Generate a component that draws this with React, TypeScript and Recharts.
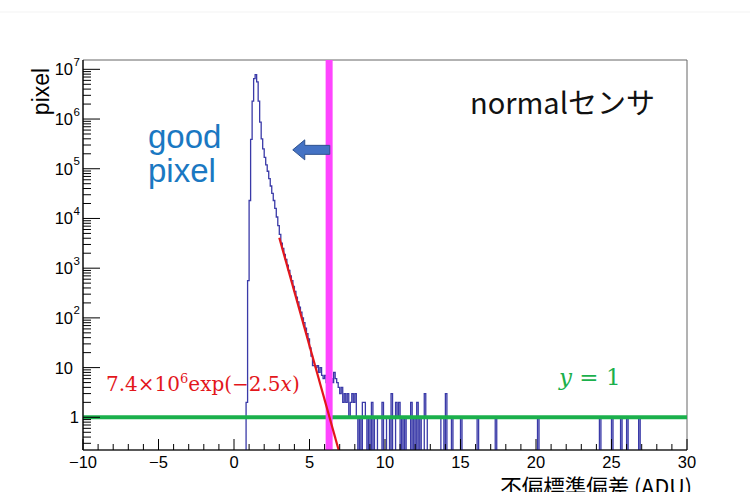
import React from 'react';
import { ComposedChart, Line, XAxis, YAxis, ReferenceDot, ReferenceArea } from 'recharts';

// ---- data ----
// histogram: bin start (ADU) and count in that bin (until the next start)
const binStart = [
  -10, 0.8, 0.9, 1.0, 1.1, 1.2, 1.3, 1.4, 1.5, 1.6, 1.7, 1.8, 1.9, 2.0, 2.1, 2.2, 2.3, 2.4, 2.5, 2.6,
  2.7, 2.8, 2.9, 3.0, 3.1, 3.2, 3.3, 3.4, 3.5, 3.6, 3.7, 3.8, 3.9, 4.0, 4.1, 4.2, 4.3, 4.4, 4.5, 4.6,
  4.7, 4.8, 4.9, 5.0, 5.1, 5.2, 5.3, 5.4, 5.5, 5.6, 5.7, 5.8, 5.9, 6.0, 6.1, 6.2, 6.3, 6.4, 6.5, 6.6,
  6.7, 6.8, 6.9, 7.0, 7.1, 7.2, 7.3, 7.4, 7.5, 7.6, 7.7, 7.8, 7.9, 8.0, 8.1, 8.2, 8.3, 8.4, 8.5, 8.6,
  8.7, 8.8, 8.9, 9.0, 9.1, 9.2, 9.3, 9.4, 9.5, 9.8, 9.9, 10.1, 10.2, 10.3, 10.4, 10.5, 10.7, 10.8, 10.9, 11.0,
  11.1, 11.2, 11.3, 11.4, 11.7, 11.8, 11.9, 12.0, 12.1, 12.2, 12.3, 12.4, 12.6, 12.7, 12.8, 13.7, 13.8, 13.9, 14.0, 14.1,
  14.4, 14.5, 15.0, 15.1, 16.1, 16.2, 17.3, 17.4, 20.1, 20.2, 24.2, 24.3, 25.0, 25.1, 25.6, 25.7, 26.0, 26.1, 26.8, 26.9,
  30,
];
const binCount = [
  0, 2, 560, 23000, 390000, 2300000, 6500000, 7800000, 5600000, 2300000, 870000, 400000, 250000, 170000, 120000, 89000, 63000, 45000, 32000, 23000,
  16000, 10700, 7200, 4800, 3200, 2500, 1900, 1500, 1150, 900, 700, 560, 430, 340, 260, 210, 165, 130, 100, 80,
  62, 48, 38, 25, 17, 11, 11, 10, 11, 8, 10, 7, 6, 7, 5, 6, 5, 6, 5, 8,
  6, 5, 4, 3, 4, 2, 3, 2, 3, 1, 2, 3, 2, 3, 1, 0, 1, 0, 2, 2,
  1, 0, 1, 0, 2, 0, 1, 1, 0, 2, 0, 1, 1, 0, 3, 0, 2, 1, 2, 0,
  1, 0, 1, 0, 2, 0, 1, 0, 2, 0, 1, 0, 3, 1, 0, 1, 1, 0, 3, 0,
  1, 0, 1, 0, 1, 0, 1, 0, 1, 0, 1, 0, 1, 0, 1, 0, 1, 0, 1, 0,
  0,
];

// fit 7.4e6 exp(-2.5x), drawn from x = 3 to below the axis floor
const fitX = [3.0, 7.0];
const fitY = [4100, 0.185];

const cutX = 6.3; // magenta selection line
const unitLevel = 1; // y = 1 line

const X_MIN = -10;
const X_MAX = 30;
const Y_MIN = 0.22;
const Y_MAX = 1.54e7;

const xTickValues = Array.from({ length: 41 }, (_, i) => X_MIN + i);
const yDecades = [-1, 0, 1, 2, 3, 4, 5, 6, 7];
const yMults = [1, 2, 3, 4, 5, 6, 7, 8, 9];

// ---- tables built for the library ----
const ZERO_DRAW = 0.05; // empty bins drawn below the axis floor (clipped)
const histData = binStart.map((x, i) => ({ x, n: binCount[i] > 0 ? binCount[i] : ZERO_DRAW }));
const fitData = fitX.map((x, i) => ({ x, y: fitY[i] }));
const cutData = [{ x: cutX, y: Y_MIN }, { x: cutX, y: Y_MAX }];
const unitData = [{ x: X_MIN, y: unitLevel }, { x: X_MAX, y: unitLevel }];
const yTickValues: number[] = [];
yDecades.forEach((d) => yMults.forEach((m) => {
  const v = m * Math.pow(10, d);
  if (v >= Y_MIN && v <= Y_MAX) yTickValues.push(v);
}));

const LABEL_FONT = '"Liberation Sans", Arial, sans-serif';

const YTick = (props: any) => {
  const { x, y, payload } = props;
  const v = payload.value;
  const lg = Math.log10(v);
  const exp = Math.round(lg);
  const major = Math.abs(lg - exp) < 1e-6;
  const len = major ? 17 : 8;
  let label: React.ReactNode = null;
  if (major) {
    if (exp === 0) {
      label = <text x={79} y={y} dy="0.36em" textAnchor="end" fontSize={16.5} fontFamily={LABEL_FONT} fill="#000">1</text>;
    } else if (exp === 1) {
      label = <text x={73} y={y} dy="0.36em" textAnchor="end" fontSize={16.5} fontFamily={LABEL_FONT} fill="#000">10</text>;
    } else {
      label = (
        <g>
          <text x={73} y={y} dy="0.36em" textAnchor="end" fontSize={16.5} fontFamily={LABEL_FONT} fill="#000">10</text>
          <text x={73.5} y={y - 3.5} textAnchor="start" fontSize={11.5} fontFamily={LABEL_FONT} fill="#000">{exp}</text>
        </g>
      );
    }
  }
  return (
    <g>
      <line x1={x} x2={x + len} y1={y} y2={y} stroke="#000" strokeWidth={1} />
      {label}
    </g>
  );
};

const XTick = (props: any) => {
  const { x, y, payload } = props;
  const v = payload.value;
  const major = v % 5 === 0;
  const len = major ? 11 : 6;
  const txt = v < 0 ? '\u2212' + Math.abs(v) : String(v);
  return (
    <g>
      <line x1={x} x2={x} y1={y} y2={y - len} stroke="#000" strokeWidth={1} />
      {major && (
        <text x={x} y={y + 17.5} textAnchor="middle" fontSize={16.5} fontFamily={LABEL_FONT} fill="#000">{txt}</text>
      )}
    </g>
  );
};

const ArrowShape = (props: any) => {
  const { cx, cy } = props;
  const pts = [
    [cx - 19, cy],
    [cx - 7, cy - 10],
    [cx - 7, cy - 4.5],
    [cx + 18, cy - 4.5],
    [cx + 18, cy + 4.5],
    [cx - 7, cy + 4.5],
    [cx - 7, cy + 10],
  ].map((p) => p.join(',')).join(' ');
  return <polygon points={pts} fill="#4472c4" stroke="#2f528f" strokeWidth={1} />;
};

export default function App() {
  return (
    <div style={{ position: 'absolute', left: 0, top: 0, width: 750, height: 492, background: '#fff', overflow: 'hidden' }}>
      <ComposedChart width={750} height={492} margin={{ top: 60, right: 63, left: 0, bottom: 0 }}>
        <XAxis
          dataKey="x"
          type="number"
          domain={[X_MIN, X_MAX]}
          ticks={xTickValues}
          interval={0}
          allowDataOverflow
          height={42}
          tickSize={0}
          tickMargin={0}
          tickLine={false}
          tick={<XTick />}
          axisLine={{ stroke: '#000', strokeWidth: 1.2 }}
        />
        <YAxis
          type="number"
          scale="log"
          domain={[Y_MIN, Y_MAX]}
          ticks={yTickValues}
          interval={0}
          allowDataOverflow
          width={83}
          tickSize={0}
          tickMargin={0}
          tickLine={false}
          tick={<YTick />}
          axisLine={{ stroke: '#000', strokeWidth: 1.2 }}
        />
        <ReferenceArea x1={X_MIN} x2={X_MAX} y1={Y_MIN} y2={Y_MAX} fill="none" stroke="#666" strokeWidth={1} />
        <Line data={histData} dataKey="n" type="stepAfter" stroke="#3a3aa8" strokeWidth={1.3} dot={false} activeDot={false} isAnimationActive={false} />
        <Line data={unitData} dataKey="y" type="linear" stroke="#1bb04c" strokeWidth={4} dot={false} activeDot={false} isAnimationActive={false} />
        <Line data={cutData} dataKey="y" type="linear" stroke="#ff45ff" strokeWidth={7} dot={false} activeDot={false} isAnimationActive={false} />
        <Line data={fitData} dataKey="y" type="linear" stroke="#e3161b" strokeWidth={2.2} dot={false} activeDot={false} isAnimationActive={false} />
        <ReferenceDot x={5.15} y={2.4e5} r={10} shape={<ArrowShape />} />
      </ComposedChart>
      <svg width={750} height={492} style={{ position: 'absolute', left: 0, top: 0, pointerEvents: 'none' }}>
        <line x1={0} x2={750} y1={12} y2={12} stroke="#f3f3f3" strokeWidth={1} />
        <text x={49} y={91.5} transform="rotate(-90 49 91.5)" textAnchor="middle" fontSize={23} fontFamily={LABEL_FONT} fill="#000">pixel</text>
        <text x={692} y={495} textAnchor="end" fontSize={21.5} fontFamily='"Noto Sans CJK JP", sans-serif' fill="#000">不偏標準偏差 (ADU)</text>
        <text fontSize={33} fontFamily={LABEL_FONT} fill="#1a78c2">
          <tspan x={148} y={148}>good</tspan>
          <tspan x={148} y={182}>pixel</tspan>
        </text>
        <text x={470} y={114} fontSize={29} fontFamily='"Noto Sans CJK JP", sans-serif' fill="#111">normalセンサ</text>
        <text x={106} y={391} fontSize={20} fontFamily='"DejaVu Serif", serif' fill="#e3161b">
          7.4×10<tspan dy={-8} fontSize={13}>6</tspan><tspan dy={8}>exp(−2.5</tspan><tspan fontStyle="italic">x</tspan>)
        </text>
        <text x={559} y={385} fontSize={23} fontFamily='"DejaVu Serif", serif' fill="#1bb04c">
          <tspan fontStyle="italic">y</tspan> = 1
        </text>
      </svg>
    </div>
  );
}
